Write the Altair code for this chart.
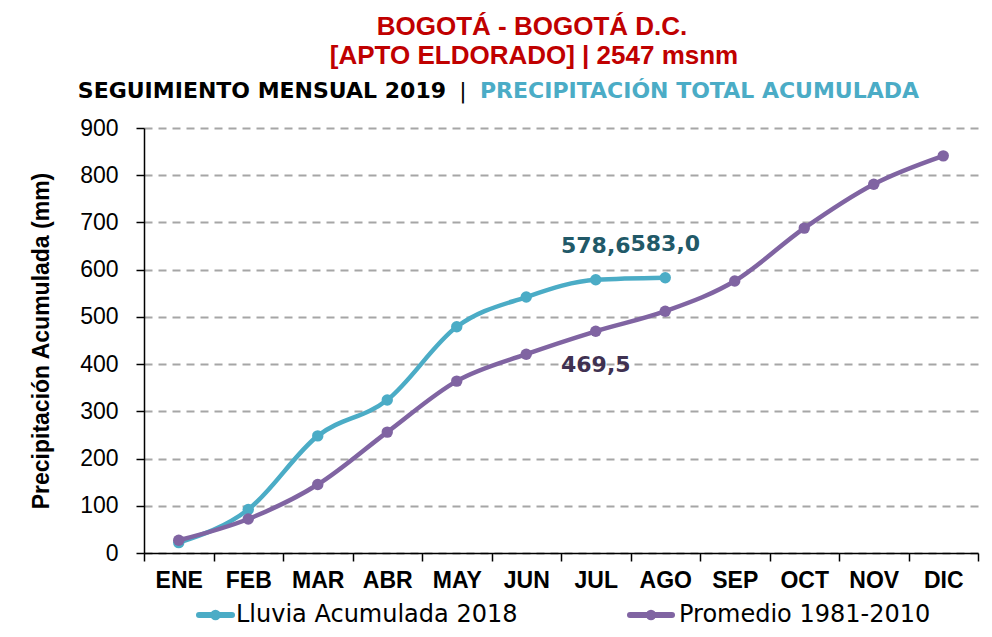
import altair as alt
import pandas as pd

MONTHS = ["ENE", "FEB", "MAR", "ABR", "MAY", "JUN", "JUL", "AGO", "SEP", "OCT", "NOV", "DIC"]
SERIES_LLUVIA = "Lluvia Acumulada 2018"
SERIES_PROMEDIO = "Promedio 1981-2010"
LLUVIA = [22.0, 92.0, 248.0, 324.0, 479.0, 542.0, 578.6, 583.0]
PROMEDIO = [27.0, 72.0, 145.0, 256.0, 364.0, 421.0, 469.5, 512.0, 576.0, 688.0, 781.0, 841.0]
LABEL_MONTHS_LLUVIA = ["JUL", "AGO"]
LABEL_MONTHS_PROMEDIO = ["JUL"]
Y_TICKS = [0, 100, 200, 300, 400, 500, 600, 700, 800, 900]

TITLE_1 = "BOGOTÁ - BOGOTÁ D.C."
TITLE_2 = "[APTO ELDORADO] | 2547 msnm"
TITLE_3A = "SEGUIMIENTO MENSUAL 2019"
TITLE_3B = "|"
TITLE_3C = "PRECIPITACIÓN TOTAL ACUMULADA"
Y_TITLE = "Precipitación Acumulada (mm)"

TEAL = "#4bacc6"
PURPLE = "#8064a2"
RED = "#c00000"
NARROW = "Liberation Sans Narrow, Arial Narrow, Liberation Sans"

rows = []
for m, v in zip(MONTHS, LLUVIA):
    rows.append({"mes": m, "valor": v, "serie": SERIES_LLUVIA})
for m, v in zip(MONTHS, PROMEDIO):
    rows.append({"mes": m, "valor": v, "serie": SERIES_PROMEDIO})
df = pd.DataFrame(rows)
df["etiqueta"] = df["valor"].map(lambda v: f"{v:.1f}".replace(".", ","))

x_enc = alt.X(
    "mes:N",
    sort=MONTHS,
    scale=alt.Scale(domain=MONTHS, paddingInner=0, paddingOuter=0),
    axis=alt.Axis(
        title=None,
        labelFont=NARROW,
        labelFontSize=23,
        labelFontWeight="bold",
        labelColor="#000000",
        labelPadding=8,
        labelAngle=0,
        tickBand="extent",
        tickSize=8,
        tickColor="#000000",
        tickWidth=1.5,
        domainColor="#000000",
        domainWidth=1.5,
        grid=False,
    ),
)
y_enc = alt.Y(
    "valor:Q",
    scale=alt.Scale(domain=[0, 900], nice=False),
    axis=alt.Axis(
        title=Y_TITLE,
        titleFont="Liberation Sans",
        titleFontSize=23,
        titleFontWeight="bold",
        titleColor="#000000",
        titlePadding=26,
        values=Y_TICKS,
        labelFont=NARROW,
        labelFontSize=23,
        labelColor="#000000",
        labelPadding=18,
        tickSize=8,
        tickColor="#000000",
        tickWidth=1.5,
        domainColor="#000000",
        domainWidth=1.5,
        grid=True,
        gridColor="#a6a6a6",
        gridWidth=2,
        gridDash=[8, 6],
    ),
)
color_enc = alt.Color(
    "serie:N",
    scale=alt.Scale(domain=[SERIES_LLUVIA, SERIES_PROMEDIO], range=[TEAL, PURPLE]),
    legend=None,
)

base = alt.Chart(df)

def series_layers(name):
    src = base.transform_filter(alt.datum.serie == name)
    line = src.mark_line(strokeWidth=4.5, interpolate="monotone").encode(x=x_enc, y=y_enc, color=color_enc)
    pts = src.mark_point(filled=True, size=130, opacity=1).encode(x=x_enc, y=y_enc, color=color_enc)
    return [line, pts]

lab_lluvia = base.transform_filter(alt.datum.serie == SERIES_LLUVIA).transform_filter(
    alt.FieldOneOfPredicate(field="mes", oneOf=LABEL_MONTHS_LLUVIA)
).mark_text(font="DejaVu Sans", fontSize=22, fontWeight="bold", color="#215968", dy=-34).encode(
    x=x_enc, y=y_enc, text="etiqueta:N"
)
lab_prom = base.transform_filter(alt.datum.serie == SERIES_PROMEDIO).transform_filter(
    alt.FieldOneOfPredicate(field="mes", oneOf=LABEL_MONTHS_PROMEDIO)
).mark_text(font="DejaVu Sans", fontSize=22, fontWeight="bold", color="#3f3151", dy=34).encode(
    x=x_enc, y=y_enc, text="etiqueta:N"
)

def text_layer(txt, x, y, **kw):
    return alt.Chart(pd.DataFrame({"t": [txt]})).mark_text(**kw).encode(
        x=alt.value(x), y=alt.value(y), text="t:N"
    )

titles = [
    text_layer(TITLE_1, 388, -101, font=NARROW, fontSize=26, fontWeight="bold", color=RED, align="center", baseline="middle"),
    text_layer(TITLE_2, 390, -72, font=NARROW, fontSize=26, fontWeight="bold", color=RED, align="center", baseline="middle"),
    text_layer(TITLE_3A, 302, -37, font="DejaVu Sans", fontSize=22, fontWeight="bold", color="#000000", align="right", baseline="middle"),
    text_layer(TITLE_3B, 319, -37, font="DejaVu Sans", fontSize=22, color="#000000", align="center", baseline="middle"),
    text_layer(TITLE_3C, 336, -37, font="DejaVu Sans", fontSize=22, fontWeight="bold", color=TEAL, align="left", baseline="middle"),
]

LEG_Y = 487

def legend_entry(name, color, x0, x1, xt):
    d = pd.DataFrame({"t": [name]})
    c = alt.Chart(d)
    rule = c.mark_rule(color=color, strokeWidth=6, strokeCap="round").encode(
        x=alt.value(x0), x2=alt.value(x1), y=alt.value(LEG_Y)
    )
    dot = c.mark_point(filled=True, size=110, color=color, opacity=1).encode(
        x=alt.value((x0 + x1) / 2), y=alt.value(LEG_Y)
    )
    txt = c.mark_text(font="DejaVu Sans", fontSize=24, color="#000000", align="left", baseline="middle").encode(
        x=alt.value(xt), y=alt.value(LEG_Y), text="t:N"
    )
    return [rule, dot, txt]

legend = legend_entry(SERIES_LLUVIA, TEAL, 55, 88, 92) + legend_entry(SERIES_PROMEDIO, PURPLE, 486, 528, 535)

chart = alt.layer(
    *series_layers(SERIES_LLUVIA),
    *series_layers(SERIES_PROMEDIO),
    lab_lluvia,
    lab_prom,
    *titles,
    *legend,
).properties(
    width=834,
    height=425,
    autosize=alt.AutoSizeParams(type="none"),
    padding={"left": 136, "top": 120, "right": 6, "bottom": 76},
    background="white",
).configure_view(stroke=None)

chart.save("out.html", embed_options={"renderer": "svg", "actions": False})
